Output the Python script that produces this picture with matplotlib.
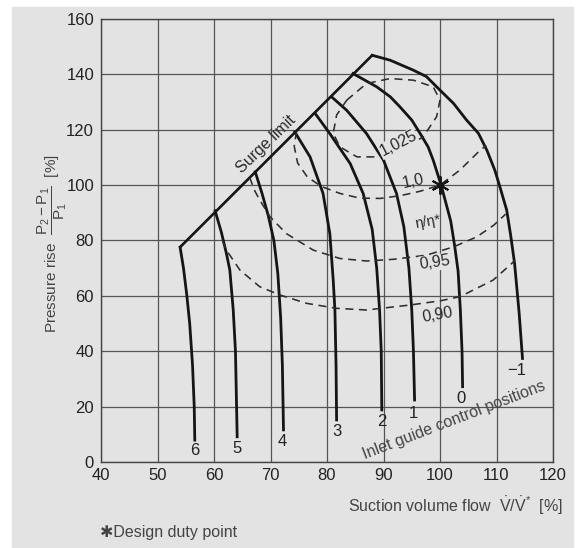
import matplotlib
matplotlib.use("Agg")
import matplotlib.pyplot as plt
from matplotlib.patches import Rectangle

plt.rcParams['font.family'] = ['Liberation Sans', 'DejaVu Sans']
plt.rcParams['mathtext.fontset'] = 'custom'
plt.rcParams['mathtext.rm'] = 'Liberation Sans'
plt.rcParams['mathtext.it'] = 'Liberation Sans'

# surge limit line
surge_x = [54.0, 88.0]
surge_y = [77.6, 146.9]

# inlet guide vane curves (label -> x, y)
igv_labels = ["6", "5", "4", "3", "2", "1", "0", "\u22121"]
igv_x = [
    [54.0, 54.6, 55.2, 55.7, 56.2, 56.5, 56.6],
    [60.2, 61.3, 62.2, 62.8, 63.4, 63.8, 64.1],
    [67.3, 68.5, 69.6, 70.6, 71.3, 71.8, 72.1, 72.3],
    [74.3, 77.0, 79.3, 80.5, 81.1, 81.4, 81.6, 81.7],
    [77.9, 80.5, 84.1, 86.4, 88.0, 88.8, 89.3, 89.6, 89.7],
    [80.8, 83.5, 87.0, 90.0, 92.3, 93.6, 94.5, 95.0, 95.3, 95.5],
    [84.6, 88.8, 91.2, 92.9, 95.0, 96.5, 97.9, 98.8, 100.2, 101.9, 102.6, 103.2, 103.6, 103.9, 104.0],
    [88.0, 91.2, 95.3, 97.6, 100.0, 102.4, 104.7, 106.8, 108.3, 109.7, 110.6, 111.8, 112.5, 113.2, 114.0, 114.6],
]
igv_y = [
    [77.6, 70.0, 60.0, 50.0, 35.0, 20.0, 7.9],
    [90.7, 83.0, 75.3, 69.3, 55.0, 40.0, 9.1],
    [104.8, 97.0, 89.0, 80.0, 68.0, 52.0, 35.0, 11.6],
    [119.2, 110.2, 97.0, 82.5, 65.7, 54.9, 35.0, 15.2],
    [125.9, 118.6, 107.8, 97.0, 84.0, 70.0, 55.0, 40.0, 18.8],
    [131.9, 127.0, 118.6, 109.0, 97.0, 85.0, 70.0, 55.0, 40.0, 22.4],
    [140.3, 135.5, 131.9, 128.3, 123.5, 118.6, 113.8, 109.0, 100.0, 87.0, 78.0, 69.0, 55.0, 40.0, 27.2],
    [146.9, 145.1, 141.5, 139.2, 134.3, 129.5, 123.5, 118.7, 112.6, 105.4, 99.4, 91.0, 82.0, 71.7, 54.0, 37.4],
]
igv_label_x = [56.6, 64.0, 72.0, 81.7, 89.7, 95.2, 103.8, 113.5]
igv_label_y = [4.0, 5.0, 7.5, 11.0, 14.5, 17.5, 23.0, 33.0]

# efficiency contours eta/eta*
eff_1025_x = [83.5, 87.0, 91.2, 95.3, 98.8, 100.0, 99.4, 97.0, 93.5, 89.4, 85.3, 82.3, 81.1, 81.7, 83.5]
eff_1025_y = [130.7, 136.7, 138.5, 137.9, 135.5, 130.7, 124.7, 117.4, 113.2, 110.2, 110.2, 113.8, 118.7, 125.3, 130.7]
eff_100_x = [74.6, 74.2, 74.8, 76.5, 79.0, 82.3, 85.8, 89.5, 93.0, 96.5, 100.0, 103.5, 107.1, 108.2]
eff_100_y = [119.4, 114.0, 108.0, 103.0, 99.5, 97.0, 95.3, 95.2, 96.2, 97.8, 100.0, 105.4, 112.6, 114.3]
eff_095_x = [66.3, 67.2, 68.1, 69.9, 72.8, 77.6, 82.3, 87.0, 91.7, 97.6, 102.4, 106.5, 109.5, 111.6]
eff_095_y = [102.8, 98.0, 94.6, 88.6, 82.5, 76.5, 73.5, 72.6, 73.2, 74.7, 77.7, 81.3, 85.5, 89.5]
eff_090_x = [61.5, 62.2, 64.6, 68.1, 71.7, 76.4, 81.7, 87.0, 94.7, 100.0, 103.5, 105.3, 109.4, 112.7, 113.2]
eff_090_y = [80.0, 76.5, 69.3, 63.3, 60.3, 57.3, 55.5, 54.9, 56.7, 58.2, 59.7, 61.5, 65.7, 71.7, 72.8]

design_x = 100.0
design_y = 100.0

bg = "#e3e3e3"
ink = "#151515"

fig = plt.figure(figsize=(5.76, 5.48), dpi=100, facecolor="white")
fig.patches.append(Rectangle((12 / 576, 0), 561 / 576, 1 - 7 / 548,
                             transform=fig.transFigure, color=bg, zorder=-5))
ax = fig.add_axes([101 / 576, 1 - 462 / 548, 452 / 576, 443 / 548])
ax.set_facecolor(bg)

ax.set_xlim(40, 120)
ax.set_ylim(0, 160)
ax.set_xticks(range(40, 121, 10))
ax.set_yticks(range(0, 161, 20))
ax.grid(True, color="#555555", lw=0.9)
ax.set_axisbelow(True)
for s in ax.spines.values():
    s.set_color("#444444")
    s.set_linewidth(1.0)
ax.tick_params(length=0, labelsize=12, labelcolor="#222222")
ax.tick_params(axis="x", pad=4)
ax.tick_params(axis="y", pad=5)

# surge line and IGV curves
ax.plot(surge_x, surge_y, color=ink, lw=1.9, solid_capstyle="round")
for xs, ys, lab, lx, ly in zip(igv_x, igv_y, igv_labels, igv_label_x, igv_label_y):
    ax.plot(xs, ys, color=ink, lw=2.0, solid_joinstyle="round")
    ax.text(lx, ly, lab, ha="center", va="center", fontsize=12, color="#222222")

dash = (0, (5, 3.5))
for xs, ys in [(eff_1025_x, eff_1025_y), (eff_100_x, eff_100_y),
               (eff_095_x, eff_095_y), (eff_090_x, eff_090_y)]:
    ax.plot(xs, ys, color="#2e2e2e", lw=1.15, linestyle=dash)

# design point
ax.plot(design_x, design_y, marker=(6, 2, 0), markersize=13, mew=1.4, color=ink, zorder=4)
ax.plot(design_x, design_y, marker="o", markersize=4, color=ink, zorder=4)

tc = "#2a2a2a"
mask = dict(facecolor=bg, edgecolor="none", pad=0.5)
ax.text(69.2, 114.6, "Surge limit", rotation=44, ha="center", va="center",
        rotation_mode="anchor", fontsize=11.5, color=tc)
ax.text(92.6, 115.0, "1,025", rotation=27, ha="center", va="center",
        rotation_mode="anchor", fontsize=11.5, color=tc, bbox=mask, zorder=3)
ax.text(95.2, 101.2, "1,0", rotation=12, ha="center", va="center",
        rotation_mode="anchor", fontsize=11.5, color=tc)
ax.text(97.9, 86.8, "\u03b7/\u03b7*", rotation=10, ha="center", va="center",
        rotation_mode="anchor", fontsize=10.5, color=tc)
ax.text(99.1, 72.0, "0,95", rotation=8, ha="center", va="center",
        rotation_mode="anchor", fontsize=11.5, color=tc, bbox=mask, zorder=3)
ax.text(99.5, 53.0, "0,90", rotation=10, ha="center", va="center",
        rotation_mode="anchor", fontsize=11.5, color=tc)
ax.text(102.4, 15.2, "Inlet guide control positions", rotation=21, ha="center",
        va="center", rotation_mode="anchor", fontsize=11.5, color="#444444")

fig.text(563 / 576, 1 - 506 / 548,
         r"Suction volume flow  $\dot{V}/\dot{V}^{*}$  [%]",
         ha="right", va="center", fontsize=11.5, color="#444444")
fig.text(52 / 576, 1 - 244 / 548,
         r"Pressure rise  $\dfrac{\mathrm{P}_2 - \mathrm{P}_1}{\mathrm{P}_1}$  [%]",
         rotation=90, ha="center", va="center", fontsize=11, color="#444444")
fig.text(100 / 576, 1 - 533 / 548, "\u2731Design duty point",
         ha="left", va="center", fontsize=11.5, color="#444444",
         family=["Liberation Sans", "DejaVu Sans"])

fig.savefig("out.png", dpi=100, facecolor="white")
